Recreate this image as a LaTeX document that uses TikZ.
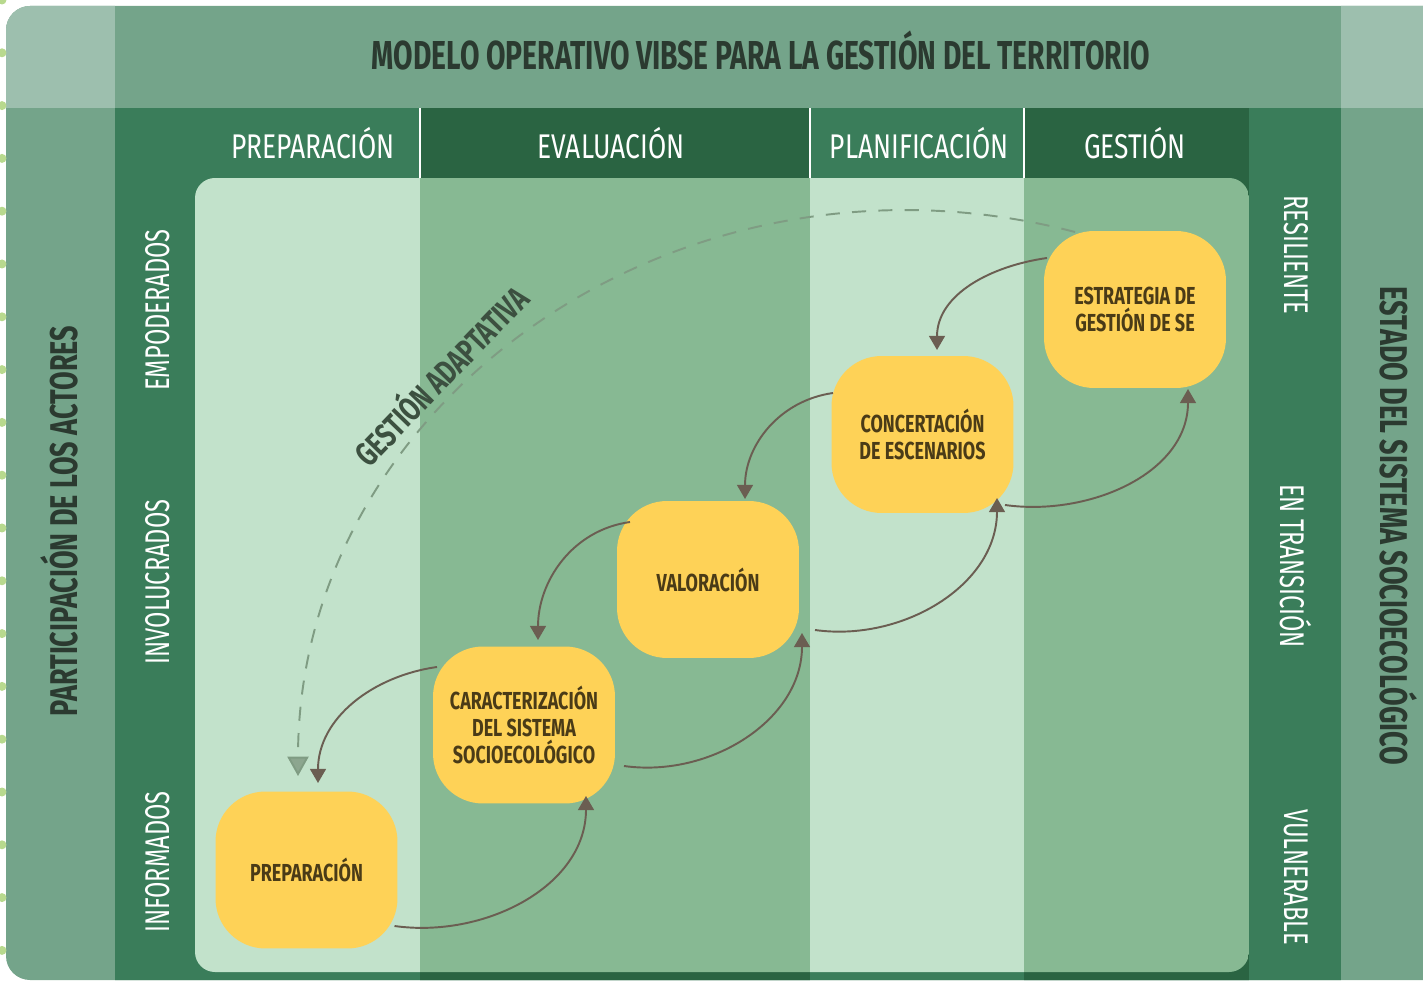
\documentclass[tikz,border=0pt]{standalone}
\usepackage{fontspec}
\setmainfont{Fira Sans}
\newfontfamily\condbold{Fira Sans}[FakeStretch=0.70]
\newfontfamily\condstage{Fira Sans}[FakeStretch=0.73]
\newfontfamily\condlight{Fira Sans}[FakeStretch=0.77]
\newfontfamily\condlevel{Fira Sans}[FakeStretch=0.69]
\usepackage{xcolor}
\usepackage{tikz}
\usetikzlibrary{arrows.meta,calc}

\definecolor{frameLight}{HTML}{9DBFAE}
\definecolor{frameMid}{HTML}{74A48A}
\definecolor{bandGreen}{HTML}{3A7D5A}
\definecolor{bandDark}{HTML}{2A6442}
\definecolor{panelLight}{HTML}{C2E2CB}
\definecolor{panelMid}{HTML}{87B993}
\definecolor{stageYellow}{HTML}{FED257}
\definecolor{stageText}{HTML}{4A3B17}
\definecolor{arrowBrown}{HTML}{6B5E52}
\definecolor{adaptGrey}{HTML}{7F9C83}
\definecolor{adaptText}{HTML}{3C5040}
\definecolor{titleText}{HTML}{2B3A30}
\definecolor{dotGreen}{HTML}{B8D98E}

\begin{document}
\begin{tikzpicture}[
      x=0.02cm, y=0.02cm,
      % Reusable styles
      stage/.style={
        fill=stageYellow,
        rounded corners=1cm,
        minimum width=3.64cm,
        minimum height=3.14cm,
        align=center,
        text=stageText,
        inner sep=2pt,
        font=\condstage\bfseries\fontsize{14}{15.5}\selectfont
      },
      phase/.style={text=white, font=\condlight\fontsize{19.5}{22}\selectfont},
      level/.style={text=white, font=\condlevel\fontsize{19.5}{22}\selectfont},
      axis/.style={text=titleText, font=\condbold\bfseries\fontsize{22}{24}\selectfont},
      stepline/.style={draw=arrowBrown, line width=1.1pt, -{Triangle[length=8pt,width=9pt]}},
      adapt/.style={draw=adaptGrey, line width=1.1pt, dash pattern=on 8pt off 7pt,
        -{Triangle[length=11pt,width=12pt,fill=adaptGrey!90!white]}}
    ]
    \useasboundingbox (0,0) rectangle (1423,981);

    % Frame and bands
    \begin{scope}
      \clip (1423,1) -- (30,1) arc[start angle=270, end angle=180, radius=0.48cm]
        -- (6,951) arc[start angle=180, end angle=90, radius=0.48cm] -- (1423,975) -- cycle;
      \fill[frameMid] (0,0) rectangle (1423,981);
      \fill[frameLight] (0,873) rectangle (115,981);
      \fill[frameLight] (1341,873) rectangle (1423,981);
      \fill[bandGreen] (115,0) rectangle (1341,873);
      \fill[bandDark] (420,0) rectangle (810,873);
      \fill[bandDark] (1024,0) rectangle (1249,873);
    \end{scope}
    \foreach \x in {420,810,1024}
      \draw[white, line width=1.2pt] (\x,873) -- (\x,803);

    % Panel with the four phase columns
    \begin{scope}
      \clip[rounded corners=0.4cm] (195,9) rectangle (1249,803);
      \fill[panelLight] (195,0) rectangle (420,803);
      \fill[panelMid] (420,0) rectangle (810,803);
      \fill[panelLight] (810,0) rectangle (1024,803);
      \fill[panelMid] (1024,0) rectangle (1249,803);
    \end{scope}

    % Binder dots
    \foreach \k in {0,...,18}
      \fill[dotGreen] (2,{981-52.8*\k}) circle[radius=0.09cm];

    % Titles
    \node[text=titleText, font=\condbold\bfseries\fontsize{23}{26}\selectfont] (title) at (761,930)
      {MODELO OPERATIVO VIBSE PARA LA GESTIÓN DEL TERRITORIO};
    \node[phase] (hprep) at (313,838) {PREPARACIÓN};
    \node[phase] (heval) at (611,838) {EVALUACIÓN};
    \node[phase] (hplan) at (919,838) {PLANIFICACIÓN};
    \node[phase] (hgest) at (1135,838) {GESTIÓN};

    \node[axis, rotate=90] (actors) at (59,460) {PARTICIPACIÓN DE LOS ACTORES};
    \node[level, rotate=90] (empo) at (158,671) {EMPODERADOS};
    \node[level, rotate=90] (invo) at (158,399) {INVOLUCRADOS};
    \node[level, rotate=90] (info) at (158,119) {INFORMADOS};

    \node[axis, rotate=-90] (estado) at (1399,455) {ESTADO DEL SISTEMA SOCIOECOLÓGICO};
    \node[level, rotate=-90] (resil) at (1296,726) {RESILIENTE};
    \node[level, rotate=-90] (trans) at (1296,415) {EN TRANSICIÓN};
    \node[level, rotate=-90] (vulne) at (1296,104) {VULNERABLE};

    % Stages of the cycle
    \node[stage] (prep) at (306.5,111) {PREPARACIÓN};
    \node[stage] (carac) at (524,256) {CARACTERIZACIÓN\\DEL SISTEMA\\SOCIOECOLÓGICO};
    \node[stage] (valor) at (708,401.5) {VALORACIÓN};
    \node[stage] (concert) at (922.5,546.5) {CONCERTACIÓN\\DE ESCENARIOS};
    \node[stage] (estrat) at (1135,671.5) {ESTRATEGIA DE\\GESTIÓN DE SE};

    % Forward steps
    \draw[stepline] ($(prep.center)+(88,-56)$) to[out=-8, in=-90] ($(carac.center)+(62,-71)$);
    \draw[stepline] ($(carac.center)+(100,-41)$) to[out=-8, in=-90] ($(valor.center)+(94,-53.5)$);
    \draw[stepline] ($(valor.center)+(107,-50.5)$) to[out=-8, in=-90] ($(concert.center)+(74.5,-63.5)$);
    \draw[stepline] ($(concert.center)+(82.5,-70.5)$) to[out=-8, in=-90] ($(estrat.center)+(53,-79.5)$);

    % Backward steps
    \draw[stepline] ($(estrat.center)+(-88,51.5)$) to[out=188, in=90] ($(concert.center)+(14.5,84.5)$);
    \draw[stepline] ($(concert.center)+(-89.5,41.5)$) to[out=188, in=90] ($(valor.center)+(37,80.5)$);
    \draw[stepline] ($(valor.center)+(-78,57.5)$) to[out=188, in=90] ($(carac.center)+(14,85)$);
    \draw[stepline] ($(carac.center)+(-87,58)$) to[out=188, in=90] ($(prep.center)+(11.5,87)$);

    % Adaptive loop
    \draw[adapt] ($(estrat.center)+(-60,77.5)$) .. controls +(-391,102) and +(0,379) .. ($(prep.center)+(-8.5,94)$);
    \node[text=adaptText, rotate=46, font=\condstage\bfseries\fontsize{19}{21}\selectfont] (adaptlabel) at (439,607) {GESTIÓN ADAPTATIVA};
  \end{tikzpicture}
\end{document}
